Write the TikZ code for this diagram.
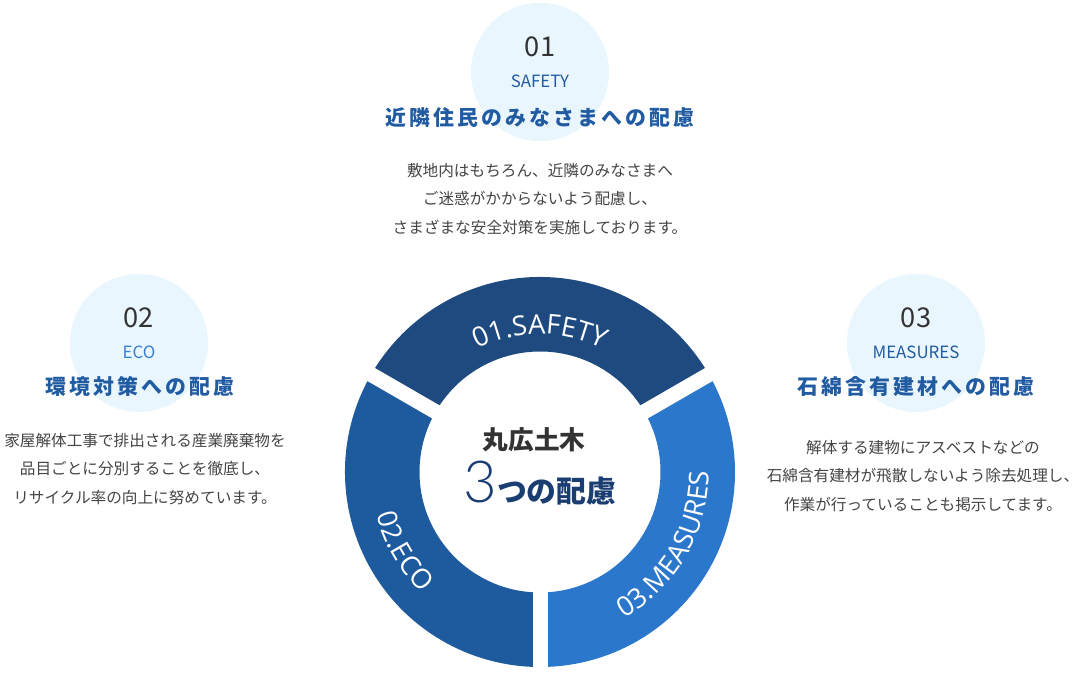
\documentclass[tikz,border=0pt]{standalone}
\usepackage{fontspec}
\setmainfont{Noto Sans CJK JP}
\newfontfamily\ringfont{Open Sans}
\IfFontExistsTF{Lato Light}{\newfontfamily\threefont{Lato Light}}{\newfontfamily\threefont{Lato}}
\usetikzlibrary{decorations.text}
\definecolor{ringdark}{RGB}{30,74,128}
\definecolor{ringmid}{RGB}{29,90,158}
\definecolor{ringlight}{RGB}{42,119,203}
\definecolor{bubblebg}{RGB}{234,246,253}
\definecolor{titleblue}{RGB}{33,92,163}
\definecolor{ecoblue}{RGB}{59,127,208}
\definecolor{navy}{RGB}{27,62,114}
\definecolor{numgray}{RGB}{51,51,51}
\definecolor{bodygray}{RGB}{68,68,68}

\begin{document}
\begin{tikzpicture}[x=0.02cm, y=0.02cm,
    bubble/.style={circle, fill=bubblebg, minimum size=2.76cm, inner sep=0pt},
    num/.style={text=numgray, font=\fontsize{15.5}{16}\selectfont},
    tag/.style={text=titleblue, font=\fontsize{9.6}{10}\selectfont},
    title/.style={text=titleblue, font=\bfseries\fontsize{11.9}{12}\selectfont\addfontfeature{LetterSpace=15}},
    body/.style={text=bodygray, align=center, font=\fontsize{8.9}{16.4}\selectfont},
    gap/.style={draw=white, line width=3mm},
    ring text/.style={decorate, decoration={text along path, text color=white, text align=center,
        text={|\ringfont\fontsize{15.5}{16}\selectfont|#1}}}
]
\useasboundingbox (0,0) rectangle (1080,674);

% Bubbles
\node[bubble] (bub1) at (540,602) {};
\node[bubble] (bub2) at (139,331) {};
\node[bubble] (bub3) at (916,331) {};

% Numbers and tags
\node[num] (num1) at (540,627) {01};
\node[num] (num2) at (139,356) {02};
\node[num] (num3) at (916,356) {03};
\node[tag] (tag1) at (540,593) {SAFETY};
\node[tag, text=ecoblue] (tag2) at (139,322) {ECO};
\node[tag] (tag3) at (916,322) {MEASURES};

% Titles
\node[title] (ttl1) at (540,556) {近隣住民のみなさまへの配慮};
\node[title] (ttl2) at (140,287) {環境対策への配慮};
\node[title] (ttl3) at (916,287) {石綿含有建材への配慮};

% Texts
\node[body] (txt1) at (540,475) {敷地内はもちろん、近隣のみなさまへ\\ご迷惑がかからないよう配慮し、\\さまざまな安全対策を実施しております。};
\node[body] (txt2) at (145,205) {家屋解体工事で排出される産業廃棄物を\\品目ごとに分別することを徹底し、\\リサイクル率の向上に努めています。};
\node[body] (txt3) at (923,198) {解体する建物にアスベストなどの\\石綿含有建材が飛散しないよう除去処理し、\\作業が行っていることも掲示してます。};

% Ring
\begin{scope}[shift={(540,202)}]
\fill[ringdark] (30:195) arc[start angle=30, end angle=150, radius=195] -- (150:120.5) arc[start angle=150, end angle=30, radius=120.5] -- cycle;
\fill[ringmid] (150:195) arc[start angle=150, end angle=270, radius=195] -- (270:120.5) arc[start angle=270, end angle=150, radius=120.5] -- cycle;
\fill[ringlight] (270:195) arc[start angle=270, end angle=390, radius=195] -- (30:120.5) arc[start angle=390, end angle=270, radius=120.5] -- cycle;
\path[gap] (0,0) -- (30:205);
\path[gap] (0,0) -- (150:205);
\path[gap] (0,0) -- (270:205);
\path[ring text=01.SAFETY] (150:138) arc[start angle=150, end angle=30, radius=138];
\path[ring text=02.ECO] (180:169) arc[start angle=180, end angle=240, radius=169];
\path[ring text=03.MEASURES] (300:169) arc[start angle=300, end angle=360, radius=169];
\end{scope}

% Center
\node[text=numgray, font=\bfseries\fontsize{14.6}{15}\selectfont] (brand) at (534,234) {丸広土木};
\node[anchor=base, text=navy] (focus) at (540,172) {{\threefont\fontsize{33}{33}\selectfont 3}{\bfseries\fontsize{17}{17}\selectfont つの配慮}};

\end{tikzpicture}
\end{document}
